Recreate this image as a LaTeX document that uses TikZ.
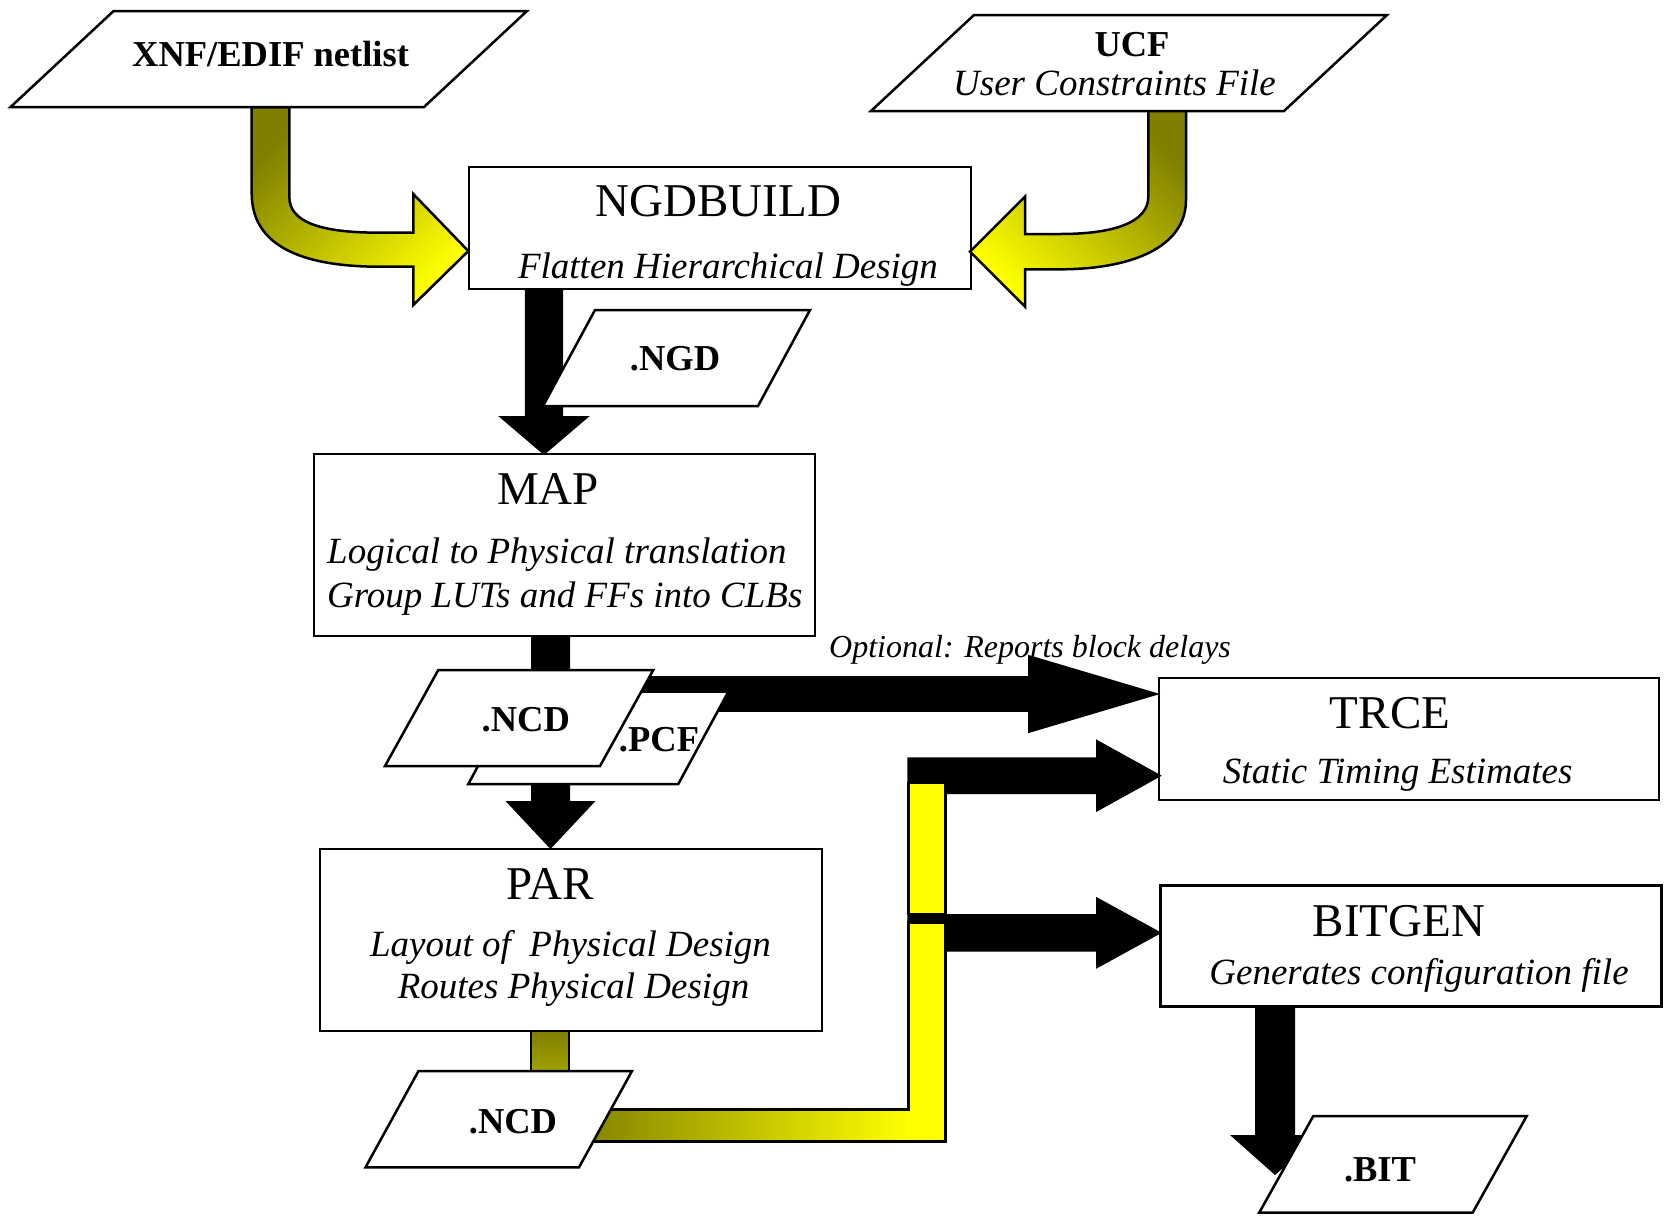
\documentclass[tikz,border=0pt]{standalone}
\usepackage{fontspec}
\setmainfont{Liberation Serif}
\usetikzlibrary{calc}
\definecolor{olivedk}{RGB}{128,128,0}
\definecolor{yel}{RGB}{255,255,0}
\tikzset{
  box/.style={draw=black, line width=2.5pt, fill=white, inner sep=0pt},
  para/.style={draw=black, line width=2.5pt, fill=white},
  title/.style={anchor=base, inner sep=0pt, font=\fontsize{47}{52}\selectfont},
  sub/.style={anchor=base, inner sep=0pt, font=\fontsize{37}{42}\selectfont\itshape},
  opt/.style={anchor=base west, inner sep=0pt, font=\fontsize{32}{36}\selectfont\itshape},
  lbl/.style={anchor=base, inner sep=0pt, font=\fontsize{36.5}{40}\selectfont\bfseries},
  yband/.style={draw=black, line width=2.5pt},
}
% vertical block arrow: start, tip, shaft half width, head half width, head length
\newcommand\blkdown[5]{\fill[black] ($(#1)+(-#3,0)$) -- ($(#1)+(#3,0)$) -- ($(#2)+(#3,-#5)$) -- ($(#2)+(#4,-#5)$) -- (#2) -- ($(#2)+(-#4,-#5)$) -- ($(#2)+(-#3,-#5)$) -- cycle;}
% horizontal block arrow
\newcommand\blkright[5]{\fill[black] ($(#1)+(0,-#3)$) -- ($(#2)+(-#5,-#3)$) -- ($(#2)+(-#5,-#4)$) -- (#2) -- ($(#2)+(-#5,#4)$) -- ($(#2)+(-#5,#3)$) -- ($(#1)+(0,#3)$) -- cycle;}
% parallelogram: top-left x, top-right x, top y, bottom y, slant
\newcommand\paral[5]{\draw[para] (#1,#3) -- (#2,#3) -- ({#2-#5},#4) -- ({#1-#5},#4) -- cycle;}
\begin{document}
\begin{tikzpicture}[x=1pt,y=-1pt]
\useasboundingbox (0,0) rectangle (1664,1216);
\fill[white] (0,0) rectangle (1664,1216);

% boxes
\node[box, minimum width=502, minimum height=122] (ngdbuild) at (720,228) {};
\node[box, minimum width=501, minimum height=182] (map) at (564.5,545) {};
\node[box, minimum width=502, minimum height=182] (par) at (570.8,940.2) {};
\node[box, minimum width=500, minimum height=122] (trce) at (1409,739) {};
\node[box, minimum width=501, minimum height=121] (bitgen) at (1411,946) {};

% curved yellow arrows
\draw[line width=2.5pt, top color=olivedk, bottom color=yel, shading angle=45]
  (251.7,107) -- (251.7,193.3) .. controls (251.7,245) and (300,266.7) .. (380,266.7)
  -- (413.3,266.7) -- (413.3,305) -- (468.3,251) -- (413.3,194) -- (413.3,232.7) -- (380,232.7)
  .. controls (320,232.7) and (289.3,222) .. (289.3,196.7) -- (289.3,107) -- cycle;
\draw[line width=2.5pt, top color=olivedk, bottom color=yel, shading angle=-45]
  (1186,110.7) -- (1186,200) .. controls (1186,248) and (1130,269.3) .. (1060,269.3)
  -- (1025,269.3) -- (1025,306.7) -- (970,251.7) -- (1025,196.7) -- (1025,234) -- (1060,234)
  .. controls (1115,234) and (1148.3,222) .. (1148.3,196.7) -- (1148.3,110.7) -- cycle;

% black block arrows
\coordinate (a1s) at (544,289);   \coordinate (a1t) at (544,455);
\coordinate (a2s) at (550.5,636); \coordinate (a2t) at (550.5,849);
\coordinate (a3s) at (600,694);   \coordinate (a3t) at (1160,694);
\coordinate (a4s) at (907.3,775.7); \coordinate (a4t) at (1161.7,775.7);
\coordinate (a5s) at (907.3,932.8); \coordinate (a5t) at (1161.7,932.8);
\coordinate (a6s) at (1275,1007); \coordinate (a6t) at (1275,1175);
\blkdown{a1s}{a1t}{19.2}{45.8}{39}
\blkdown{a2s}{a2t}{19.5}{45}{48}
\blkright{a3s}{a3t}{17.8}{39.2}{132}
\blkright{a4s}{a4t}{18.4}{36.4}{65.7}
\blkright{a5s}{a5t}{18.8}{36}{65.7}
\blkdown{a6s}{a6t}{20}{45}{40}

% olive stem under PAR
\draw[line width=2.5pt, top color=olivedk, bottom color=olivedk!75!yel] (531.2,1031) rectangle (568.8,1071);

% yellow pipe from .NCD to TRCE / BITGEN
\draw[yband, fill=yel] (908.5,783) rectangle (945.5,914);
\fill[left color=olivedk, right color=yel] (575,1109.5) rectangle (910,1141.5);
\fill[yel] (908.5,922.7) rectangle (945.5,1141.5);
\draw[line width=2.5pt] (575,1109.5) -- (908.5,1109.5) -- (908.5,922.7) -- (945.5,922.7) -- (945.5,1141.5) -- (575,1141.5);

% parallelograms
\paral{113.6}{527}{11}{107}{103}
\paral{974}{1387}{15}{111}{103}
\paral{595}{810}{310}{406}{52}
\paral{518.3}{728.3}{691.7}{784}{50}
\paral{438.3}{653.3}{670}{766}{53.3}
\paral{418.5}{632}{1071}{1167.3}{53}
\paral{1313.3}{1526.7}{1116}{1212.5}{54}

% texts
\node[lbl] (xnft) at (270.6,66) {XNF/EDIF netlist};
\node[lbl] (ucft) at (1132,56) {UCF};
\node[sub] (ucfs) at (1114.5,95) {User Constraints File};
\node[title] (ngdt) at (718.5,216.5) {NGDBUILD};
\node[sub] (ngds) at (728,278) {Flatten Hierarchical Design};
\node[lbl] (ngdl) at (675,370) {.NGD};
\node[title] (mapt) at (548,504) {MAP};
\node[sub, anchor=base west] (maps1) at (327,563) {Logical to Physical translation};
\node[sub, anchor=base west] (maps2) at (327,607) {Group LUTs and FFs into CLBs};
\node[lbl] (ncd1) at (525.8,731.7) {.NCD};
\node[lbl] (pcfl) at (659,751.7) {.PCF};
\node[opt] (optt) at (829,657) {Optional: Reports block delays};
\node[title] (part) at (550.5,899) {PAR};
\node[sub] (pars1) at (570.5,956) {Layout of\ \ Physical Design};
\node[sub] (pars2) at (573.5,998) {Routes Physical Design};
\node[lbl] (ncd2) at (513,1133.3) {.NCD};
\node[title] (trcet) at (1390,728.3) {TRCE};
\node[sub] (trces) at (1397.7,783) {Static Timing Estimates};
\node[title] (bitt) at (1399,936) {BITGEN};
\node[sub] (bits) at (1419,984) {Generates configuration file};
\node[lbl] (bitl) at (1380,1181.7) {.BIT};
\end{tikzpicture}
\end{document}
